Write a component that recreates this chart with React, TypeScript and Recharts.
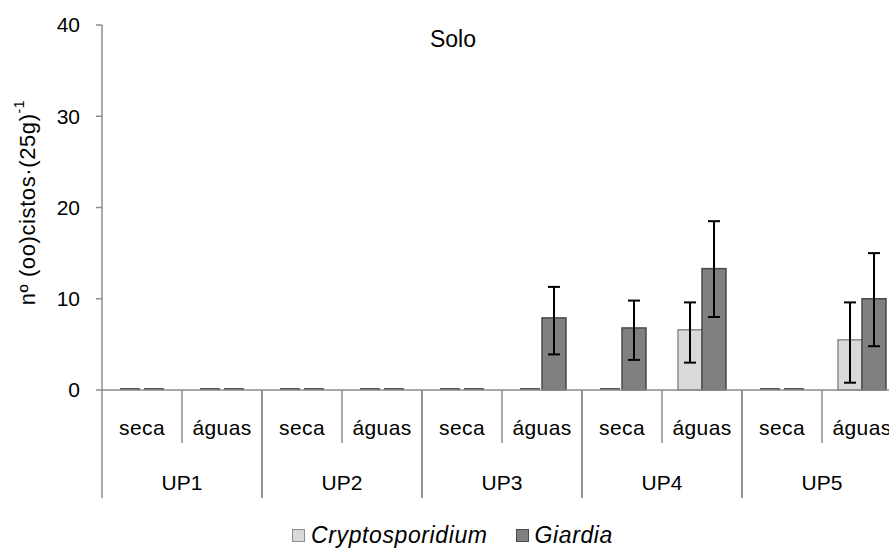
import { BarChart, Bar, XAxis, YAxis, ErrorBar, Legend } from 'recharts';

// Soil samples: mean counts and the low/high ends of each error bar
const units = ['UP1', 'UP2', 'UP3', 'UP4', 'UP5'];
const seasons = ['seca', 'águas'];

const cryptoMean = [0, 0, 0, 0, 0, 0, 0, 6.6, 0, 5.5];
const cryptoLow = [null, null, null, null, null, null, null, 3.0, null, 0.8];
const cryptoHigh = [null, null, null, null, null, null, null, 9.6, null, 9.6];

const giardiaMean = [0, 0, 0, 0, 0, 7.9, 6.8, 13.3, 0, 10.0];
const giardiaLow = [null, null, null, null, null, 3.9, 3.3, 8.0, null, 4.8];
const giardiaHigh = [null, null, null, null, null, 11.3, 9.8, 18.5, null, 15.0];

const yTicks = [0, 10, 20, 30, 40];

const FONT = '"Liberation Sans", Arial, sans-serif';
const AXIS = '#8c8c8c';

const CRYPTO_FILL = '#d9d9d9';
const CRYPTO_STROKE = '#8c8c8c';
const GIARDIA_FILL = '#808080';
const GIARDIA_STROKE = '#4a4a4a';
const ZERO_STROKE = '#595959';

const delta = (mean: number, lo: number | null, hi: number | null) =>
  lo == null || hi == null ? null : [mean - lo, hi - mean];

const data = units.flatMap((up, u) =>
  seasons.map((season, s) => {
    const i = u * seasons.length + s;
    return {
      up,
      season,
      crypto: cryptoMean[i],
      cryptoErr: delta(cryptoMean[i], cryptoLow[i], cryptoHigh[i]),
      giardia: giardiaMean[i],
      giardiaErr: delta(giardiaMean[i], giardiaLow[i], giardiaHigh[i]),
    };
  })
);

// zero-valued bars still show as a short stroke on the baseline
const BarShape = (props: any) => {
  const { x, y, width, height, fill, stroke } = props;
  if (!height) {
    return (
      <line x1={x + 2} x2={x + width - 2} y1={y - 1} y2={y - 1} stroke={ZERO_STROKE} strokeWidth={2} />
    );
  }
  return <rect x={x} y={y} width={width} height={height} fill={fill} stroke={stroke} strokeWidth={1.5} />;
};

const SeasonTick = (props: any) => {
  const { x, y, payload } = props;
  const half = payload.offset ?? 40;
  const isFirst = payload.index % 2 === 0;
  return (
    <g>
      <text
        x={x}
        y={y + 45}
        textAnchor="middle"
        fontSize={21}
        letterSpacing={0.4}
        fontFamily={FONT}
        fill="#000"
      >
        {payload.value}
      </text>
      {isFirst && <line x1={x + half} x2={x + half} y1={y} y2={y + 53} stroke={AXIS} strokeWidth={1.5} />}
    </g>
  );
};

const UnitTick = (props: any) => {
  const { x, y, payload } = props;
  const half = payload.offset ?? 80;
  return (
    <g>
      <text x={x} y={y + 47} textAnchor="middle" fontSize={21} fontFamily={FONT} fill="#000">
        {payload.value}
      </text>
      <line x1={x - half} x2={x - half} y1={y - 53} y2={y + 55} stroke={AXIS} strokeWidth={1.5} />
      <line x1={x + half} x2={x + half} y1={y - 53} y2={y + 55} stroke={AXIS} strokeWidth={1.5} />
    </g>
  );
};

const YLabel = (props: any) => {
  const { viewBox } = props;
  const cx = viewBox.x - 11;
  const cy = viewBox.y + viewBox.height / 2 - 5;
  return (
    <text
      x={cx}
      y={cy}
      transform={`rotate(-90, ${cx}, ${cy})`}
      textAnchor="middle"
      dominantBaseline="middle"
      fontSize={22}
      letterSpacing={0.6}
      fontFamily={FONT}
      fill="#000"
    >
      nº (oo)cistos·(25g)
      <tspan dy={-9} fontSize={14}>-1</tspan>
    </text>
  );
};

const renderLegend = () => {
  const items = [
    { name: 'Cryptosporidium', fill: CRYPTO_FILL, stroke: CRYPTO_STROKE },
    { name: 'Giardia', fill: GIARDIA_FILL, stroke: GIARDIA_STROKE },
  ];
  return (
    <div style={{ display: 'flex', justifyContent: 'center', gap: 28, height: 26, fontFamily: FONT }}>
      {items.map((it) => (
        <div key={it.name} style={{ display: 'flex', alignItems: 'center', gap: 6 }}>
          <div
            style={{
              width: 11,
              height: 11,
              background: it.fill,
              border: `1px solid ${it.stroke}`,
            }}
          />
          <span style={{ fontSize: 23, fontStyle: 'italic', letterSpacing: 0.6, color: '#000' }}>{it.name}</span>
        </div>
      ))}
    </div>
  );
};

export default function App() {
  return (
    <div
      style={{
        position: 'absolute',
        left: 0,
        top: 0,
        width: 889,
        height: 548,
        overflow: 'hidden',
        background: '#fff',
      }}
    >
      <BarChart
        width={905}
        height={548}
        data={data}
        margin={{ top: 25, right: 3, left: 40, bottom: 50 }}
        barCategoryGap="20%"
        barGap={0}
      >
        <text x={453} y={47} textAnchor="middle" fontSize={23} fontFamily={FONT} fill="#000">
          Solo
        </text>
        <YAxis
          width={62}
          domain={[0, 40]}
          ticks={yTicks}
          interval={0}
          tickSize={6}
          tickMargin={16}
          stroke={AXIS}
          strokeWidth={1.5}
          tick={{ fill: '#000', fontSize: 21, fontFamily: FONT }}
          label={<YLabel />}
        />
        <XAxis
          dataKey="season"
          interval={0}
          height={53}
          tickSize={0}
          tickMargin={0}
          stroke={AXIS}
          strokeWidth={1.5}
          tick={<SeasonTick />}
        />
        <XAxis
          xAxisId="up"
          dataKey="up"
          allowDuplicatedCategory={false}
          interval={0}
          height={55}
          tickSize={0}
          tickMargin={0}
          axisLine={false}
          tickLine={false}
          tick={<UnitTick />}
        />
        <Legend
          layout="horizontal"
          align="center"
          verticalAlign="middle"
          content={renderLegend}
          wrapperStyle={{ top: 522, left: 0, width: 905 }}
        />
        <Bar
          dataKey="crypto"
          name="Cryptosporidium"
          fill={CRYPTO_FILL}
          stroke={CRYPTO_STROKE}
          shape={BarShape}
          isAnimationActive={false}
        >
          <ErrorBar dataKey="cryptoErr" stroke="#000" strokeWidth={2} width={6} isAnimationActive={false} />
        </Bar>
        <Bar
          dataKey="giardia"
          name="Giardia"
          fill={GIARDIA_FILL}
          stroke={GIARDIA_STROKE}
          shape={BarShape}
          isAnimationActive={false}
        >
          <ErrorBar dataKey="giardiaErr" stroke="#000" strokeWidth={2} width={6} isAnimationActive={false} />
        </Bar>
      </BarChart>
    </div>
  );
}
